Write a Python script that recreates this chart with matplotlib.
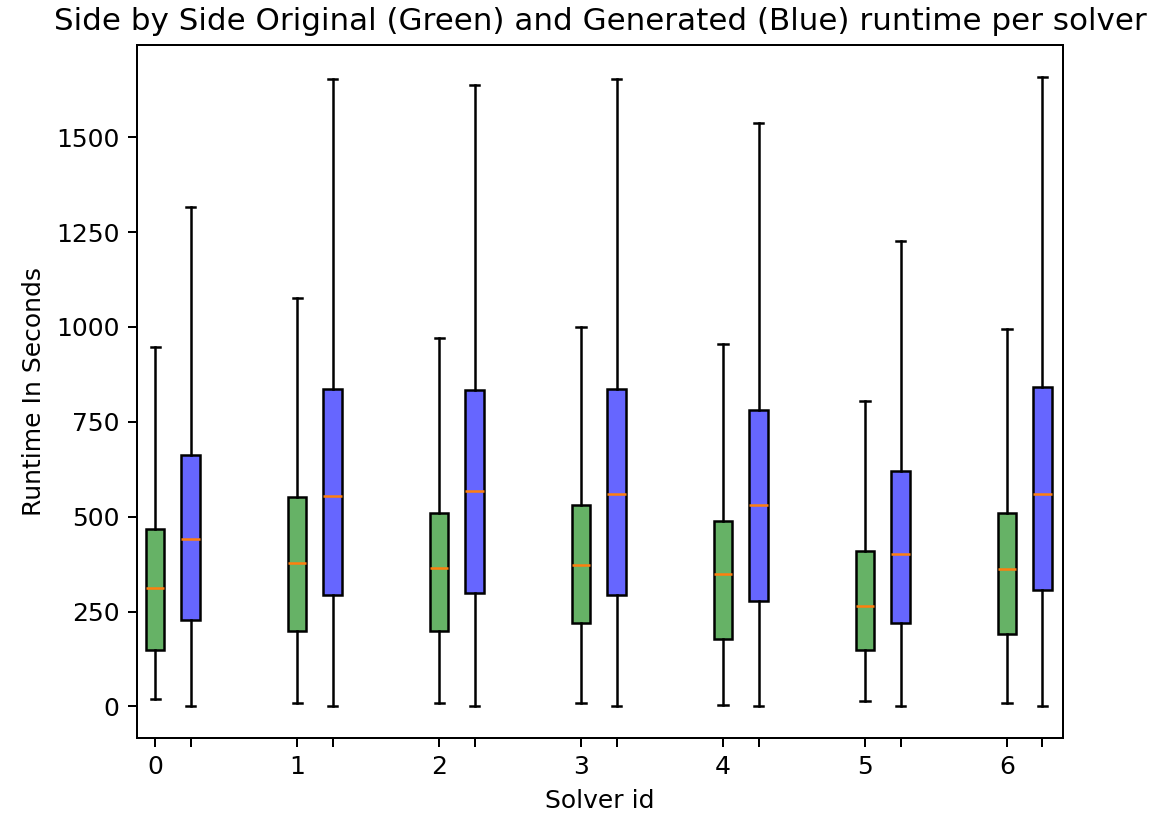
import matplotlib
matplotlib.use("Agg")
import matplotlib.pyplot as plt

solvers = [0, 1, 2, 3, 4, 5, 6]

# Original (green) box statistics
orig_whislo = [20, 10, 10, 10, 5, 15, 10]
orig_q1     = [148, 200, 200, 221, 179, 148, 190]
orig_med    = [313, 377, 366, 372, 348, 264, 361]
orig_q3     = [467, 551, 511, 530, 490, 411, 511]
orig_whishi = [946, 1076, 970, 999, 954, 804, 994]

# Generated (blue) box statistics
gen_whislo = [0, 0, 0, 0, 0, 0, 0]
gen_q1     = [227, 295, 300, 295, 279, 221, 306]
gen_med    = [440, 554, 567, 561, 530, 401, 561]
gen_q3     = [662, 836, 833, 836, 780, 620, 843]
gen_whishi = [1316, 1653, 1637, 1653, 1537, 1226, 1658]

def stats(lo, q1, med, q3, hi):
    return [dict(whislo=a, q1=b, med=c, q3=d, whishi=e, fliers=[])
            for a, b, c, d, e in zip(lo, q1, med, q3, hi)]

fig = plt.figure(figsize=(1155 / 180, 815 / 180), dpi=180)
ax = fig.add_axes([0.1186, 0.0945, 0.9203 - 0.1186, 0.9448 - 0.0945])

pos_o = [s for s in solvers]
pos_g = [s + 0.25 for s in solvers]
w = 0.127

common = dict(widths=w, patch_artist=True, showfliers=False,
              medianprops=dict(color='#ff7f0e', linewidth=1.0),
              whiskerprops=dict(color='black', linewidth=1.0),
              capprops=dict(color='black', linewidth=1.0))

bo = ax.bxp(stats(orig_whislo, orig_q1, orig_med, orig_q3, orig_whishi),
            positions=pos_o, manage_ticks=False, **common)
bg = ax.bxp(stats(gen_whislo, gen_q1, gen_med, gen_q3, gen_whishi),
            positions=pos_g, manage_ticks=False, **common)
for b in bo['boxes']:
    b.set_facecolor((0, 0.5, 0, 0.6))
    b.set_edgecolor('black')
    b.set_linewidth(1.0)
for b in bg['boxes']:
    b.set_facecolor((0, 0, 1, 0.6))
    b.set_edgecolor('black')
    b.set_linewidth(1.0)

ticks = []
labels = []
for s in solvers:
    ticks += [s, s + 0.25]
    labels += [str(s), '']
ax.set_xticks(ticks)
ax.set_xticklabels(labels)
ax.set_xlim(-0.127, 6.394)
ax.set_ylim(-83, 1743)
ax.set_yticks([0, 250, 500, 750, 1000, 1250, 1500])

ax.set_title('Side by Side Original (Green) and Generated (Blue) runtime per solver', fontsize=12.4)
ax.set_xlabel('Solver id')
ax.set_ylabel('Runtime In Seconds')

fig.savefig('out.png', dpi=180)
